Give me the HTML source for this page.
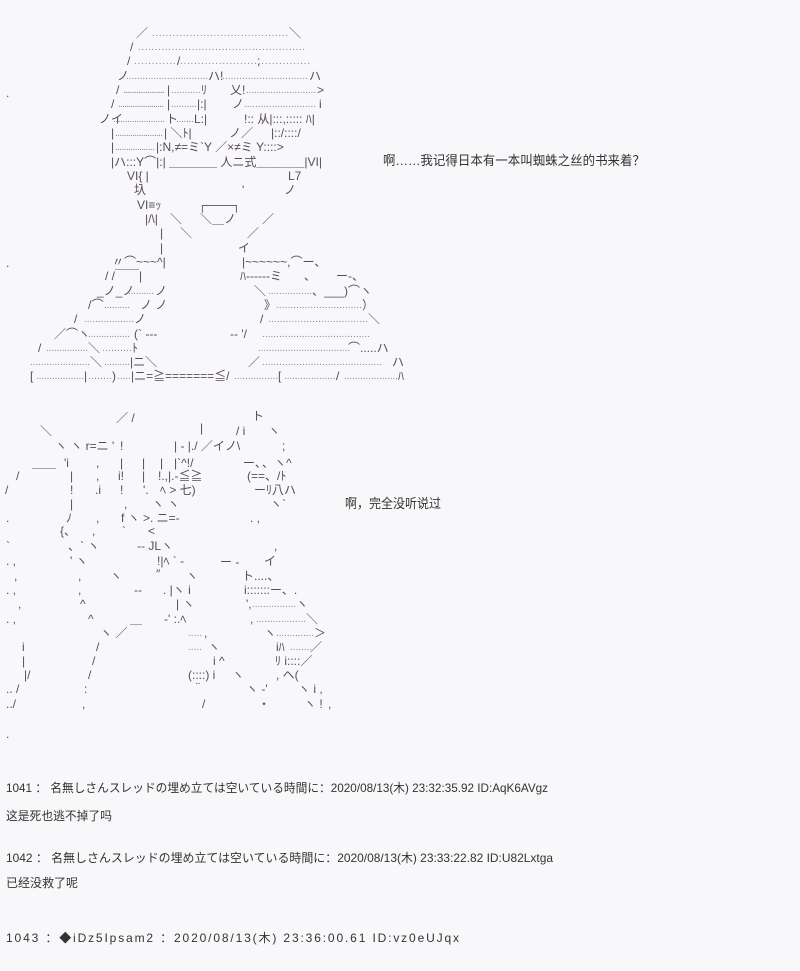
<!DOCTYPE html>
<html><head><meta charset="utf-8"><style>
html,body{margin:0;padding:0;background:#f8f8fa;}
svg{display:block}
.a{font-family:"Liberation Sans","Noto Sans CJK JP",sans-serif;font-size:12px;fill:#5a4a5c}
.d{font-family:"Liberation Sans",sans-serif;font-size:10px;fill:#8f8190}
.t{font-family:"Liberation Sans","Noto Sans CJK SC",sans-serif;font-size:12px;fill:#333}
</style></head><body>
<svg width="800" height="971" xmlns="http://www.w3.org/2000/svg">
<g class="a">
<text x="136" y="37">／</text><text class="d" x="152" y="36" textLength="136" lengthAdjust="spacing">........................................</text><text x="289" y="37">＼</text>
<text x="130" y="51">/</text><text class="d" x="138" y="50" textLength="167" lengthAdjust="spacing">..................................................</text>
<text x="127" y="65">/</text><text class="d" x="134" y="64" textLength="176" lengthAdjust="spacing">..................................................</text><text x="177" y="65">/</text><text x="257" y="65">;</text>
<text x="117" y="80">ノ</text><text class="d" x="126" y="79" textLength="82" lengthAdjust="spacing">..............................</text><text x="208" y="80">ハ!</text><text class="d" x="222" y="79" textLength="86" lengthAdjust="spacing">..............................</text><text x="309" y="80">ハ</text>
<text x="116" y="94">/</text><text class="d" x="123" y="93" textLength="42" lengthAdjust="spacing">......................</text><text x="167" y="94">|</text><text class="d" x="171" y="93" textLength="30" lengthAdjust="spacing">...........</text><text x="201" y="94">ﾘ</text><text x="230" y="94">乂!</text><text class="d" x="246" y="93" textLength="70" lengthAdjust="spacing">..........................</text><text x="317" y="94">&gt;</text>
<text x="111" y="108">/</text><text class="d" x="118" y="107" textLength="46" lengthAdjust="spacing">......................</text><text x="167" y="108">|</text><text class="d" x="171" y="107" textLength="26" lengthAdjust="spacing">..........</text><text x="197" y="108">|:|</text><text x="232" y="108">ノ</text><text class="d" x="244" y="107" textLength="72" lengthAdjust="spacing">..........................</text><text x="319" y="108">i</text>
<text x="99" y="123">ノイ</text><text class="d" x="113" y="122" textLength="52" lengthAdjust="spacing">......................</text><text x="166" y="123">ト</text><text class="d" x="176" y="122" textLength="18" lengthAdjust="spacing">.......</text><text x="194" y="123">L:|</text><text x="244" y="123">!:: 从|:::,:::::  ﾊ|</text>
<text x="111" y="137">|</text><text class="d" x="115" y="136" textLength="48" lengthAdjust="spacing">......................</text><text x="164" y="137">|  ＼ﾄ|</text><text x="229" y="137">ノ／</text><text x="271" y="137">|::/::::/</text>
<text x="111" y="151">|</text><text class="d" x="115" y="150" textLength="40" lengthAdjust="spacing">..................</text><text x="156" y="151">|:N,≠=ミ`Y   ／×≠ミ Y::::&gt;</text>
<text x="111" y="166">|ハ:::Y⌒|:|  ＿＿＿＿ 人ニ式＿＿＿＿|VI|</text>
<text x="127" y="180">VI{  |</text><text x="288" y="180">L7</text>
<text x="134" y="194">圦</text><text x="242" y="194">'</text><text x="284" y="194">ノ</text>
<text x="137" y="209">VI≡ｯ</text><text x="198" y="209">┌───┐</text>
<text x="145" y="223">|/\|</text><text x="170" y="223">＼</text><text x="200" y="223">＼＿ノ</text><text x="262" y="223">／</text>
<text x="160" y="237">|</text><text x="180" y="237">＼</text><text x="247" y="237">／</text>
<text x="160" y="252">|</text><text x="238" y="252">イ</text>
<text x="112" y="266">〃⌒~~~^|</text><text x="242" y="266">|~~~~~~,⌒ー、</text>
<text x="105" y="280">/ /￣￣|</text><text x="240" y="280">ﾊ------ミ</text><text x="304" y="280">、</text><text x="336" y="280">ー-、</text>
<text x="97" y="295">_ノ_ノ</text><text class="d" x="128" y="294" textLength="26" lengthAdjust="spacing">..........</text><text x="155" y="295">ノ</text><text x="254" y="295">＼</text><text class="d" x="268" y="294" textLength="44" lengthAdjust="spacing">................</text><text x="312" y="295">、___)⌒ヽ</text>
<text x="88" y="309">/⌒</text><text class="d" x="104" y="308" textLength="26" lengthAdjust="spacing">..........</text><text x="140" y="309">ノ ノ</text><text x="264" y="309">》</text><text class="d" x="276" y="308" textLength="86" lengthAdjust="spacing">..............................</text><text x="362" y="309">）</text>
<text x="74" y="323">/</text><text class="d" x="84" y="322" textLength="50" lengthAdjust="spacing">..................</text><text x="134" y="323">ノ</text><text x="260" y="323">/</text><text class="d" x="268" y="322" textLength="100" lengthAdjust="spacing">..................................</text><text x="368" y="323">＼</text>
<text x="54" y="338">／⌒ヽ</text><text class="d" x="88" y="337" textLength="42" lengthAdjust="spacing">................</text><text x="134" y="338">(` ---</text><text x="230" y="338">-- '/</text><text class="d" x="262" y="337" textLength="108" lengthAdjust="spacing">......................................</text>
<text x="38" y="352">/</text><text class="d" x="46" y="351" textLength="42" lengthAdjust="spacing">................</text><text x="88" y="352">＼</text><text class="d" x="102" y="351" textLength="30" lengthAdjust="spacing">..........</text><text x="132" y="352">ﾄ</text><text class="d" x="258" y="351" textLength="92" lengthAdjust="spacing">..................................</text><text x="348" y="352">⌒.....ハ</text>
<text class="d" x="30" y="365" textLength="60" lengthAdjust="spacing">......................</text><text x="90" y="366">＼</text><text class="d" x="104" y="365" textLength="26" lengthAdjust="spacing">..........</text><text x="130" y="366">|ニ＼</text><text x="248" y="366">／</text><text class="d" x="262" y="365" textLength="120" lengthAdjust="spacing">..........................................</text><text x="392" y="366">ハ</text>
<text x="30" y="380">[</text><text class="d" x="36" y="379" textLength="48" lengthAdjust="spacing">..................</text><text x="84" y="380">|</text><text class="d" x="88" y="379" textLength="24" lengthAdjust="spacing">........</text><text x="112" y="380">)</text><text class="d" x="117" y="379" textLength="14" lengthAdjust="spacing">.....</text><text x="131" y="380">|ニ=≧=======≦/</text><text class="d" x="234" y="379" textLength="44" lengthAdjust="spacing">................</text><text x="278" y="380">[</text><text class="d" x="284" y="379" textLength="54" lengthAdjust="spacing">....................</text><text x="336" y="380">/</text><text class="d" x="344" y="379" textLength="54" lengthAdjust="spacing">....................</text><text x="398" y="380">ﾊ</text>

<text x="116" y="422">／ /</text><text x="252" y="420">ト</text>
<text x="40" y="435">＼</text><text x="200" y="432">|</text><text x="236" y="435">/ i</text><text x="268" y="435">ヽ</text>
<text x="55" y="450">ヽ ヽ r=ニ '</text><text x="120" y="450">!</text><text x="174" y="450">| -  |./  ／イノ\</text><text x="282" y="450">;</text>
<text x="32" y="467">＿＿</text><text x="64" y="467">'i</text><text x="96" y="467">,</text><text x="120" y="467">|</text><text x="142" y="467">|</text><text x="160" y="467">|</text><text x="174" y="467">|`^!/</text><text x="243" y="467">ー、</text><text x="262" y="467">、ヽ^</text>
<text x="16" y="480">/</text><text x="70" y="480">|</text><text x="96" y="480">,</text><text x="118" y="480">i!</text><text x="142" y="480">|</text><text x="158" y="480">!.,|.-≦≧</text><text x="247" y="480">(==、/ﾄ</text>
<text x="5" y="494">/</text><text x="70" y="494">!</text><text x="95" y="494">.i</text><text x="120" y="494">!</text><text x="143" y="494">'.</text><text x="160" y="494">ﾍ  &gt;  七)</text><text x="254" y="494">ーﾘ八ハ</text>
<text x="70" y="508">|</text><text x="124" y="508">,</text><text x="152" y="508">ヽ ヽ</text><text x="270" y="508">ヽ`</text>
<text x="6" y="522">.</text><text x="66" y="522">ﾉ</text><text x="96" y="522">,</text><text x="121" y="522">f ヽ  &gt;. ニ=-</text><text x="250" y="522">.  ,</text>
<text x="60" y="535">{、</text><text x="92" y="535">,</text><text x="122" y="535">`</text><text x="148" y="535">&lt;</text>
<text x="6" y="550">`</text><text x="68" y="550">、`  ヽ</text><text x="137" y="550">-- JLヽ</text><text x="274" y="550">,</text>
<text x="6" y="565">. ,</text><text x="70" y="565">'  ヽ</text><text x="157" y="565">!|ﾍ  `   -</text><text x="220" y="566">ー  -</text><text x="264" y="565">イ</text>
<text x="14" y="580">,</text><text x="78" y="580">,</text><text x="110" y="580">ヽ</text><text x="156" y="578">″</text><text x="186" y="580">ヽ</text><text x="242" y="580">ト....、</text>
<text x="6" y="594">.  ,</text><text x="78" y="594">,</text><text x="134" y="594">--</text><text x="163" y="594">. |ヽ i</text><text x="244" y="594">i:::::::ー、.</text>
<text x="18" y="608">,</text><text x="80" y="608">^</text><text x="176" y="608">|  ヽ</text><text x="246" y="608">',</text><text class="d" x="252" y="607" textLength="44" lengthAdjust="spacing">................</text><text x="296" y="608">ヽ</text>
<text x="6" y="623">.  ,</text><text x="88" y="623">^</text><text x="130" y="623">＿</text><text x="164" y="623">-' :.ﾍ</text><text x="250" y="623">,</text><text class="d" x="256" y="622" textLength="50" lengthAdjust="spacing">..................</text><text x="306" y="623">＼</text>
<text x="100" y="637">ヽ ／</text><text class="d" x="188" y="636" textLength="14" lengthAdjust="spacing">.....</text><text x="204" y="637">,</text><text x="264" y="637">ヽ</text><text class="d" x="276" y="636" textLength="38" lengthAdjust="spacing">..............</text><text x="314" y="637">＞</text>
<text x="22" y="651">i</text><text x="96" y="651">/</text><text class="d" x="188" y="650" textLength="14" lengthAdjust="spacing">.....</text><text x="208" y="651">ヽ</text><text x="276" y="651">iﾊ</text><text class="d" x="290" y="650" textLength="22" lengthAdjust="spacing">........</text><text x="310" y="651">／</text>
<text x="22" y="665">|</text><text x="92" y="665">/</text><text x="213" y="665">i ^</text><text x="275" y="665">ﾘ i::::／</text>
<text x="24" y="679">|/</text><text x="88" y="679">/</text><text x="188" y="679">(::::) i</text><text x="232" y="679">ヽ</text><text x="276" y="679">, ヘ(</text>
<text x="6" y="693">..  /</text><text x="84" y="693">:</text><text x="196" y="691">¨</text><text x="246" y="693">ヽ  -'</text><text x="298" y="693">ヽ  i  ,</text>
<text x="6" y="708">../</text><text x="82" y="708">,</text><text x="202" y="708">/</text><text x="258" y="708">・</text><text x="304" y="708">ヽ !</text><text x="328" y="708">,</text>
<text x="6" y="738">.</text>
<text x="6" y="97">.</text><text x="6" y="267">.</text>
</g>
<g class="t">
<text x="383" y="165" font-size="13" textLength="262" lengthAdjust="spacingAndGlyphs">啊……我记得日本有一本叫蜘蛛之丝的书来着？</text>
<text x="345" y="508" font-size="13" textLength="96" lengthAdjust="spacingAndGlyphs">啊，完全没听说过</text>
<text x="6" y="792" textLength="542" lengthAdjust="spacingAndGlyphs">1041 ： 名無しさんスレッドの埋め立ては空いている時間に：2020/08/13(木) 23:32:35.92 ID:AqK6AVgz</text>
<text x="6" y="820" textLength="106" lengthAdjust="spacingAndGlyphs">这是死也逃不掉了吗</text>
<text x="6" y="862" textLength="547" lengthAdjust="spacingAndGlyphs">1042 ： 名無しさんスレッドの埋め立ては空いている時間に：2020/08/13(木) 23:33:22.82 ID:U82Lxtga</text>
<text x="6" y="887" textLength="72" lengthAdjust="spacingAndGlyphs">已经没救了呢</text>
<text x="6" y="942" textLength="453" lengthAdjust="spacing">1043 ：◆iDz5Ipsam2 ：2020/08/13(木) 23:36:00.61 ID:vz0eUJqx</text>
</g>
</svg>
</body></html>
